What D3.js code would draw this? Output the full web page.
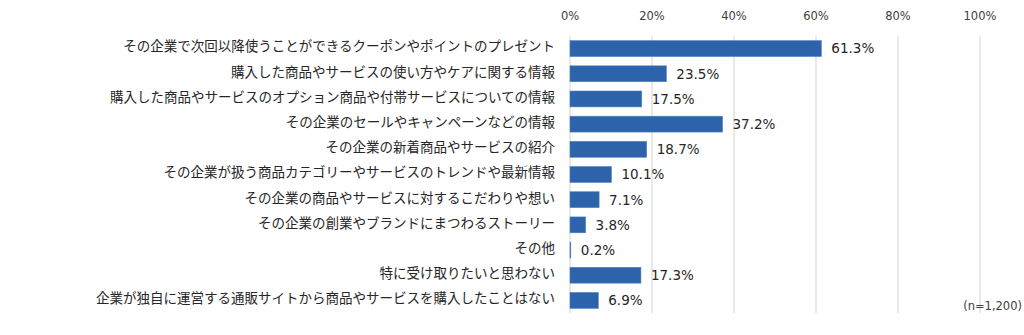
<!DOCTYPE html>
<html>
<head>
<meta charset="utf-8">
<script src="https://cdn.jsdelivr.net/npm/d3@7/dist/d3.min.js"></script>
<style>
html,body{margin:0;padding:0;background:#fff;}
svg{display:block;}
</style>
</head>
<body>
<svg id="chart" width="1024" height="335"></svg>
<script>
const categories = [
  "その企業で次回以降使うことができるクーポンやポイントのプレゼント",
  "購入した商品やサービスの使い方やケアに関する情報",
  "購入した商品やサービスのオプション商品や付帯サービスについての情報",
  "その企業のセールやキャンペーンなどの情報",
  "その企業の新着商品やサービスの紹介",
  "その企業が扱う商品カテゴリーやサービスのトレンドや最新情報",
  "その企業の商品やサービスに対するこだわりや想い",
  "その企業の創業やブランドにまつわるストーリー",
  "その他",
  "特に受け取りたいと思わない",
  "企業が独自に運営する通販サイトから商品やサービスを購入したことはない"
];
const values = [61.3, 23.5, 17.5, 37.2, 18.7, 10.1, 7.1, 3.8, 0.2, 17.3, 6.9];
const tickValues = [0, 20, 40, 60, 80, 100];
const note = "(n=1,200)";

const svg = d3.select("#chart");
const x = d3.scaleLinear().domain([0, 100]).range([570, 980]);
const y = d3.scaleBand().domain(categories).range([36, 313]).paddingInner(0.37).paddingOuter(0.185);

// gridlines
svg.append("g").selectAll("line").data(tickValues).join("line")
  .attr("x1", d => x(d)).attr("x2", d => x(d))
  .attr("y1", 36).attr("y2", 313)
  .attr("stroke", "#d9d9d9").attr("stroke-width", 1.2);

// top axis labels
svg.append("g").selectAll("text").data(tickValues).join("text")
  .attr("x", d => x(d)).attr("y", 20)
  .attr("text-anchor", "middle")
  .attr("font-family", "DejaVu Sans, Verdana, sans-serif")
  .attr("font-size", "11.5px")
  .attr("fill", "#404040")
  .text(d => d + "%");

// bars
svg.append("g").selectAll("rect").data(values).join("rect")
  .attr("x", x(0))
  .attr("y", (d, i) => y(categories[i]))
  .attr("width", d => x(d) - x(0))
  .attr("height", y.bandwidth())
  .attr("fill", "#2c63aa")
  .attr("stroke", "#4f80c0")
  .attr("stroke-width", 0.6);

// value labels
svg.append("g").selectAll("text").data(values).join("text")
  .attr("x", d => x(d) + 10)
  .attr("y", (d, i) => y(categories[i]) + y.bandwidth() / 2)
  .attr("dy", "0.36em")
  .attr("font-family", "DejaVu Sans, Verdana, sans-serif")
  .attr("font-size", "13.5px")
  .attr("fill", "#262626")
  .text(d => d.toFixed(1) + "%");

// category labels
svg.append("g").selectAll("text").data(categories).join("text")
  .attr("x", 555)
  .attr("y", d => y(d) + y.bandwidth() / 2 - 2)
  .attr("dy", "0.36em")
  .attr("text-anchor", "end")
  .attr("font-family", "Noto Sans CJK JP, sans-serif")
  .attr("font-size", "13.5px")
  .attr("fill", "#262626")
  .text(d => d);

// note
svg.append("text")
  .attr("x", 1022).attr("y", 310)
  .attr("text-anchor", "end")
  .attr("font-family", "DejaVu Sans, Verdana, sans-serif")
  .attr("font-size", "11.5px")
  .attr("fill", "#404040")
  .text(note);
</script>
</body>
</html>
